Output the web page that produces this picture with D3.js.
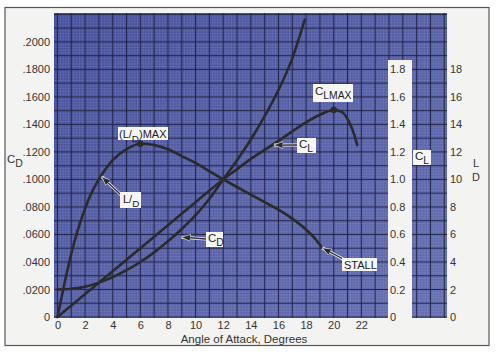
<!DOCTYPE html>
<html>
<head>
<meta charset="utf-8">
<script src="https://cdn.jsdelivr.net/npm/d3@7"></script>
<style>
  body { margin: 0; background: #fff; }
  svg { display: block; }
</style>
</head>
<body>
<div id="chart"></div>
<script>
// Values

// tick labels
const xTicks = [0, 2, 4, 6, 8, 10, 12, 14, 16, 18, 20, 22];
const cdTicks = [0, 0.02, 0.04, 0.06, 0.08, 0.10, 0.12, 0.14, 0.16, 0.18, 0.20];
const clTicks = [0, 0.2, 0.4, 0.6, 0.8, 1.0, 1.2, 1.4, 1.6, 1.8];
const ldTicks = [0, 2, 4, 6, 8, 10, 12, 14, 16, 18];

// drag coefficient C_D vs angle of attack
const cdAngle = [0, 1, 2, 3, 4, 5, 6, 7, 8, 9, 10, 11, 12, 13, 14, 15, 16, 17, 17.9];
const cdValue = [0.020, 0.0205, 0.022, 0.025, 0.029, 0.034, 0.040, 0.047, 0.055, 0.064,
                 0.074, 0.086, 0.100, 0.114, 0.129, 0.146, 0.165, 0.188, 0.216];

// lift coefficient C_L vs angle of attack
const clAngle = [0, 4, 8, 10, 12, 13, 14, 15, 16, 17, 18, 19, 20, 20.6, 21.1, 21.5, 21.7];
const clValue = [0, 0.333, 0.667, 0.835, 1.0, 1.075, 1.15, 1.215, 1.28, 1.35, 1.415, 1.47,
                 1.505, 1.49, 1.42, 1.32, 1.25];

// lift / drag ratio vs angle of attack
const ldAngle = [0, 0.5, 1, 1.5, 2, 2.5, 3, 4, 5, 6, 7, 8, 9, 10, 11, 12, 13, 14, 15, 16, 17, 18, 18.6, 19.1];
const ldValue = [0, 2.4, 4.6, 6.4, 7.9, 9.1, 10.0, 11.4, 12.2, 12.6, 12.5, 12.2, 11.7, 11.2,
                 10.6, 10.0, 9.45, 8.9, 8.35, 7.8, 7.15, 6.35, 5.75, 5.1];

const width = 498;
const height = 354;
const font = "'Liberation Sans', Arial, sans-serif";
const ink = "#2a2a2a";

const svg = d3.select("#chart")
    .append("svg")
    .attr("width", width)
    .attr("height", height)
    .style("font-family", font);

// scales (the three vertical scales share the same pixel mapping)
const x = d3.scaleLinear().domain([-0.25, 28.2]).range([54, 447]);
const yCD = d3.scaleLinear().domain([0, 0.221]).range([317, 13]);
const yCL = d3.scaleLinear().domain([0, 2.21]).range([317, 13]);
const yLD = d3.scaleLinear().domain([0, 22.1]).range([317, 13]);

// paper frame
svg.append("rect")
    .attr("x", 5).attr("y", 7.5)
    .attr("width", 484).attr("height", 338)
    .attr("fill", "#f3f3f1")
    .attr("stroke", "#555")
    .attr("stroke-width", 1.2);

// blue graph paper
const defs = svg.append("defs");
const grad = defs.append("linearGradient")
    .attr("id", "paper")
    .attr("x1", "0%").attr("y1", "0%")
    .attr("x2", "100%").attr("y2", "100%");
grad.append("stop").attr("offset", "0%").attr("stop-color", "#434d99");
grad.append("stop").attr("offset", "100%").attr("stop-color", "#666fb0");

const x0 = x.range()[0], x1 = x.range()[1];
const yTop = 13, yBot = 318;

svg.append("rect")
    .attr("x", x0).attr("y", yTop)
    .attr("width", x1 - x0).attr("height", yBot - yTop)
    .attr("fill", "url(#paper)");

const grid = svg.append("g");

// minor grid
const minorX = d3.range(0, 28.2, 0.2);
const minorY = d3.range(0, 0.221, 0.002);
grid.selectAll(".mx").data(minorX).join("line")
    .attr("x1", d => x(d)).attr("x2", d => x(d))
    .attr("y1", yTop).attr("y2", yBot)
    .attr("stroke", "#9ca4d6").attr("stroke-opacity", 0.35).attr("stroke-width", 0.6);
grid.selectAll(".my").data(minorY).join("line")
    .attr("x1", x0).attr("x2", x1)
    .attr("y1", d => yCD(d)).attr("y2", d => yCD(d))
    .attr("stroke", "#9ca4d6").attr("stroke-opacity", 0.35).attr("stroke-width", 0.6);

// major grid
const majorX = d3.range(0, 29, 1);
const majorY = d3.range(0, 0.2205, 0.01);
grid.selectAll(".Mx").data(majorX).join("line")
    .attr("x1", d => x(d)).attr("x2", d => x(d))
    .attr("y1", yTop).attr("y2", yBot)
    .attr("stroke", "#23264a").attr("stroke-width", 1);
grid.selectAll(".My").data(majorY).join("line")
    .attr("x1", x0).attr("x2", x1)
    .attr("y1", d => yCD(d)).attr("y2", d => yCD(d))
    .attr("stroke", "#23264a").attr("stroke-width", 1);

// white strip holding the C_L scale
svg.append("rect")
    .attr("x", 388).attr("y", 60)
    .attr("width", 24).attr("height", yBot - 60 + 1)
    .attr("fill", "#f3f3f1");

// axes
function styleAxis(g) {
    g.select(".domain").remove();
    g.selectAll("text")
        .attr("font-family", font)
        .attr("font-size", 11)
        .attr("fill", "#333");
}

svg.append("g")
    .attr("transform", `translate(${x0},0)`)
    .call(d3.axisLeft(yCD).tickValues(cdTicks).tickSize(0).tickPadding(4)
        .tickFormat(d => d === 0 ? "0" : d3.format(".4f")(d).replace(/^0/, "")))
    .call(styleAxis);

svg.append("g")
    .attr("transform", "translate(388,0)")
    .call(d3.axisRight(yCL).tickValues(clTicks).tickSize(0).tickPadding(2)
        .tickFormat(d => d === 0 ? "0" : d.toFixed(1)))
    .call(styleAxis);

svg.append("g")
    .attr("transform", `translate(${x1},0)`)
    .call(d3.axisRight(yLD).tickValues(ldTicks).tickSize(0).tickPadding(3))
    .call(styleAxis);

svg.append("g")
    .attr("transform", `translate(0,${yBot})`)
    .call(d3.axisBottom(x).tickValues(xTicks).tickSize(0).tickPadding(3))
    .call(styleAxis);

svg.append("text")
    .attr("x", 244).attr("y", 343)
    .attr("text-anchor", "middle")
    .attr("font-size", 11.5)
    .attr("fill", "#333")
    .text("Angle of Attack, Degrees");

// curves
const curves = [
    { a: cdAngle, v: cdValue, y: yCD },
    { a: clAngle, v: clValue, y: yCL },
    { a: ldAngle, v: ldValue, y: yLD }
];
curves.forEach(c => {
    const pts = c.a.map((a, i) => [a, c.v[i]]);
    const line = d3.line()
        .x(d => x(d[0]))
        .y(d => c.y(d[1]))
        .curve(d3.curveMonotoneX);
    svg.append("path")
        .datum(pts)
        .attr("d", line)
        .attr("fill", "none")
        .attr("stroke", ink)
        .attr("stroke-width", 2.6)
        .attr("stroke-linecap", "round");
});

// max points
const ldMaxI = d3.maxIndex(ldValue);
const clMaxI = d3.maxIndex(clValue);
svg.append("circle").attr("cx", x(ldAngle[ldMaxI])).attr("cy", yLD(ldValue[ldMaxI]))
    .attr("r", 3.2).attr("fill", ink);
svg.append("circle").attr("cx", x(clAngle[clMaxI])).attr("cy", yCL(clValue[clMaxI]))
    .attr("r", 3.2).attr("fill", ink);

// arrows
defs.append("marker")
    .attr("id", "head")
    .attr("markerUnits", "userSpaceOnUse")
    .attr("markerWidth", 10).attr("markerHeight", 8)
    .attr("refX", 9).attr("refY", 4)
    .attr("orient", "auto")
    .append("path")
    .attr("d", "M0,0.5 L9,4 L0,7.5 Z")
    .attr("fill", ink)
    .attr("stroke", "#eee")
    .attr("stroke-width", 0.6);

function arrow(xa, ya, xb, yb) {
    svg.append("line")
        .attr("x1", xa).attr("y1", ya).attr("x2", xb).attr("y2", yb)
        .attr("stroke", "#eee").attr("stroke-width", 3);
    svg.append("line")
        .attr("x1", xa).attr("y1", ya).attr("x2", xb).attr("y2", yb)
        .attr("stroke", ink).attr("stroke-width", 1.3)
        .attr("marker-end", "url(#head)");
}

// label with white box; parts are [text, isSubscript]
function label(bx, by, bw, bh, tx, ty, parts, size) {
    size = size || 11;
    svg.append("rect")
        .attr("x", bx).attr("y", by).attr("width", bw).attr("height", bh)
        .attr("fill", "#f6f6f4");
    const t = svg.append("text")
        .attr("x", tx).attr("y", ty)
        .attr("font-size", size)
        .attr("fill", "#222");
    let down = false;
    parts.forEach(p => {
        const s = t.append("tspan").text(p[0]);
        if (p[1] && !down) { s.attr("dy", 4).attr("font-size", size * 0.9); down = true; }
        else if (!p[1] && down) { s.attr("dy", -4); down = false; }
    });
}

// L/D
arrow(121, 195, x(3.2), yLD(10.2));
label(120, 192, 21, 16, 123, 203, [["L/", false], ["D", true]]);

// (L/D)MAX
label(118, 127, 50, 13, 119, 137.5, [["(L/", false], ["D", true], [")MAX", false]]);

// C_L on curve
arrow(297, 145, x(15.6) + 1, yCL(1.25));
label(297, 138, 19, 15, 299, 148, [["C", false], ["L", true]], 11.5);

// C_LMAX
label(313, 84, 40, 18, 315, 94.5, [["C", false], ["LMAX", true]], 11.5);

// C_D
arrow(206, 239, x(8.9) + 1, yCD(0.058));
label(206, 232, 17, 15, 208, 242, [["C", false], ["D", true]], 11.5);

// STALL
arrow(343, 259, x(ldAngle[ldAngle.length - 1]) + 1, yLD(ldValue[ldValue.length - 1]) + 1);
label(342, 258, 35, 13, 344, 268.5, [["STALL", false]]);

// right-hand C_L label on the blue strip
label(413, 150, 18, 15, 415, 160, [["C", false], ["L", true]], 11.5);

// left-hand C_D label
const cdLab = svg.append("text").attr("x", 7).attr("y", 163)
    .attr("font-size", 11.5).attr("fill", "#333");
cdLab.append("tspan").text("C");
cdLab.append("tspan").attr("dy", 4).attr("font-size", 10.5).text("D");

// right-hand L over D
svg.append("text").attr("x", 476).attr("y", 167)
    .attr("text-anchor", "middle").attr("font-size", 11).attr("fill", "#333").text("L");
svg.append("text").attr("x", 476).attr("y", 181)
    .attr("text-anchor", "middle").attr("font-size", 11).attr("fill", "#333").text("D");
</script>
</body>
</html>
